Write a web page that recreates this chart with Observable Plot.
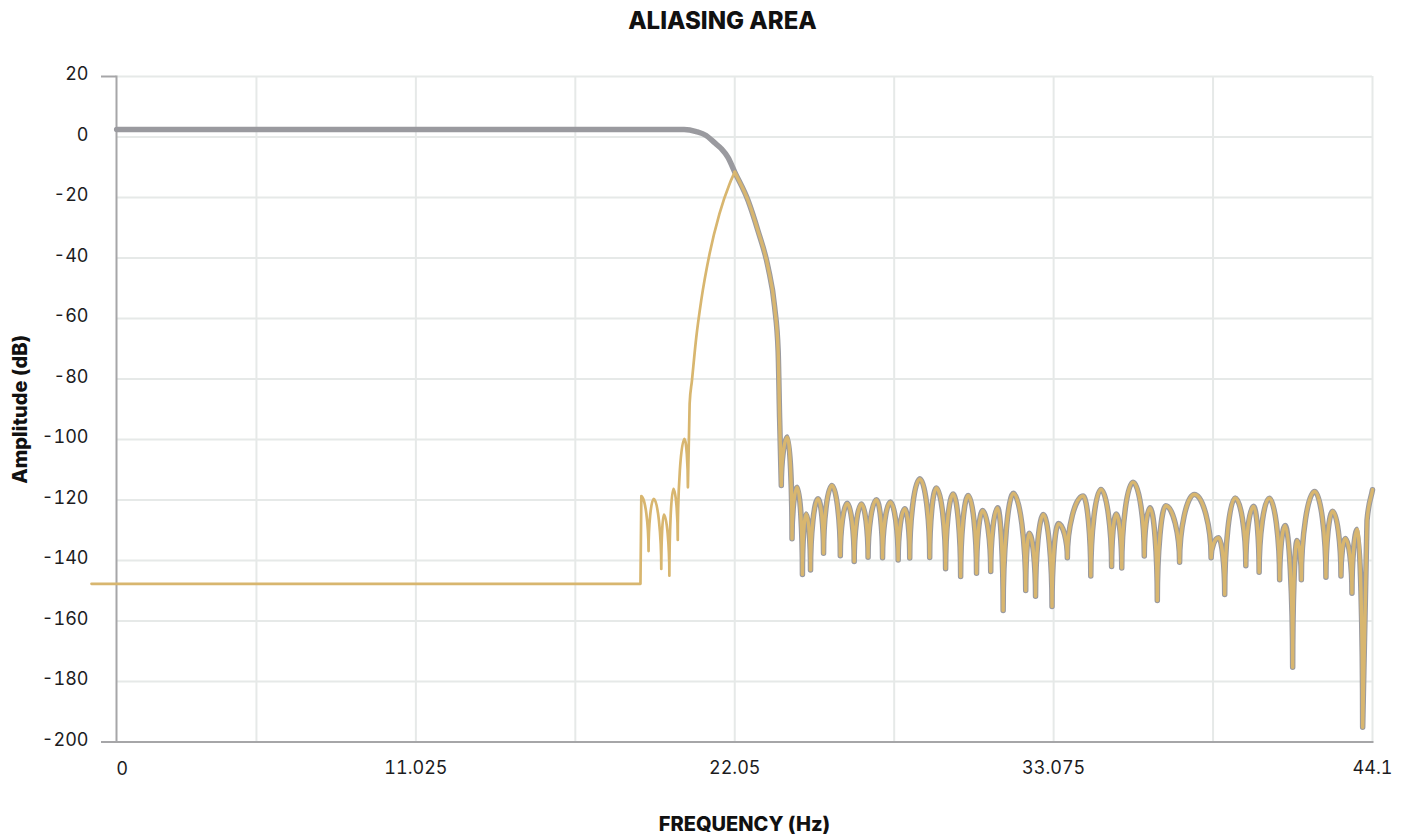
<!DOCTYPE html>
<html>
<head>
<meta charset="utf-8">
<script src="https://cdn.jsdelivr.net/npm/d3@7"></script>
<script src="https://cdn.jsdelivr.net/npm/@observablehq/plot@0.6"></script>
<style>
  body { margin: 0; background: #fff; font-family: Inter, "Liberation Sans", sans-serif; }
  #title { height: 40px; line-height: 42px; width: 1365px; padding-left: 40px; text-align: center;
           font-size: 24px; font-weight: 800; color: #111; }
</style>
</head>
<body>
<div id="title">ALIASING AREA</div>
<div id="chart"></div>
<script>
// ---- data ----
const yTicks = [20, 0, -20, -40, -60, -80, -100, -120, -140, -160, -180, -200];
const gridFreqs = [5.5125, 11.025, 16.5375, 22.05, 27.5625, 33.075, 38.5875, 44.1];
const xTickValues = [11.025, 22.05, 33.075, 44.1];
const xTickLabels = ["11.025", "22.05", "33.075", "44.1"];
const firstXLabel = "0";

// filter response: passband and transition (grey only)
const passFreq = [0.68, 20.30, 20.72, 21.06, 21.34, 21.58, 21.82];
const passAmp  = [2.5, 2.5, 1.8, 0.5, -1.8, -3.8, -6.8];

// stopband (grey and gold overlap)
const stopFreq = [22.05, 22.51, 22.85, 23.20, 23.43, 23.55, 23.60, 23.66, 23.87, 24.03,
  24.21, 24.39, 24.52, 24.67, 24.93, 25.12, 25.41, 25.70, 25.94, 26.18,
  26.43, 26.66, 26.95, 27.16, 27.43, 27.70, 27.93, 28.10, 28.45, 28.79,
  29.02, 29.34, 29.60, 29.86, 30.12, 30.41, 30.62, 30.90, 31.14, 31.33,
  31.68, 32.11, 32.23, 32.45, 32.72, 33.02, 33.24, 33.55, 34.10, 34.36,
  34.71, 35.08, 35.24, 35.43, 35.82, 36.21, 36.41, 36.66, 36.95, 37.43,
  37.94, 38.52, 38.78, 38.99, 39.35, 39.72, 39.99, 40.18, 40.53, 40.89,
  41.08, 41.34, 41.49, 41.64, 42.10, 42.49, 42.72, 43.01, 43.16, 43.39,
  43.57, 43.76, 43.91, 44.10];
const stopAmp = [-11.6, -21.0, -30.9, -43.0, -56.3, -70.6, -92.6, -115.2, -99.2, -132.8,
  -115.8, -144.6, -124.6, -143.1, -119.6, -137.6, -115.2, -138.4, -121.1, -140.3,
  -121.3, -138.9, -119.9, -139.1, -120.7, -139.8, -122.9, -139.2, -113.0, -139.0,
  -116.0, -142.7, -118.0, -145.3, -118.5, -144.2, -123.5, -143.6, -122.6, -156.5,
  -117.8, -149.9, -131.0, -151.8, -124.8, -155.2, -127.8, -139.1, -118.7, -145.1,
  -116.5, -142.0, -124.6, -142.5, -114.1, -138.5, -122.6, -153.2, -121.9, -140.6,
  -118.2, -139.1, -132.5, -151.2, -119.3, -141.7, -122.1, -143.9, -119.4, -146.4,
  -128.4, -175.3, -133.4, -146.4, -117.2, -145.5, -123.7, -145.1, -132.7, -150.8,
  -129.7, -195.1, -126.8, -116.6];

// aliased image folded below the Nyquist frequency (gold only)
const aliasFreq = [-0.19, 18.79, 18.82, 19.07, 19.25, 19.51, 19.60, 19.79, 19.93, 20.08,
  20.31, 20.43, 20.49, 20.57, 20.72, 20.89, 21.18, 21.52, 21.87, 22.05];
const aliasAmp = [-147.7, -147.7, -118.7, -136.9, -119.6, -142.8, -124.8, -145.0, -116.3, -133.2,
  -99.8, -115.8, -88.2, -80.5, -66.2, -54.1, -38.6, -25.4, -15.5, -11.6];

const toRows = (fs, as) => fs.map((f, i) => ({f, a: as[i]}));
const greyRows = toRows(passFreq, passAmp).concat(toRows(stopFreq, stopAmp));
const stopRows = toRows(stopFreq, stopAmp);
const aliasRows = toRows(aliasFreq, aliasAmp);

// curve: rounded lobe tops, sharp nulls, monotone smoothing elsewhere (passes through every point)
function lobeCurve(context) {
  let pts;
  return {
    areaStart() {}, areaEnd() {},
    lineStart() { pts = []; },
    point(x, y) { pts.push([+x, +y]); },
    lineEnd() {
      const n = pts.length;
      if (!n) return;
      const kind = i => {
        if (i <= 0 || i >= n - 1) return 0;
        const y0 = pts[i - 1][1], y1 = pts[i][1], y2 = pts[i + 1][1];
        if (y1 < y0 && y1 < y2) return 1;
        if (y1 > y0 && y1 > y2) return -1;
        return 0;
      };
      const slope = (a, b) => {
        const h = pts[b][0] - pts[a][0];
        return h ? (pts[b][1] - pts[a][1]) / h : 0;
      };
      const tangent = i => {
        if (n < 2) return 0;
        if (i === 0) return slope(0, 1);
        if (i === n - 1) return slope(n - 2, n - 1);
        const s0 = slope(i - 1, i), s1 = slope(i, i + 1);
        if (s0 * s1 <= 0) return 0;
        const h0 = pts[i][0] - pts[i - 1][0], h1 = pts[i + 1][0] - pts[i][0];
        const p = (s0 * h1 + s1 * h0) / (h0 + h1);
        return (Math.sign(s0) + Math.sign(s1)) * Math.min(Math.abs(s0), Math.abs(s1), 0.5 * Math.abs(p));
      };
      context.moveTo(pts[0][0], pts[0][1]);
      for (let i = 1; i < n; i++) {
        const [x0, y0] = pts[i - 1], [x1, y1] = pts[i];
        const k0 = kind(i - 1), k1 = kind(i);
        const h = x1 - x0;
        if (k0 === -1 && k1 === 1) {
          context.bezierCurveTo(x0, y0 + 0.5 * (y1 - y0), x1 - 0.5 * h, y1, x1, y1);
        } else if (k0 === 1 && k1 === -1) {
          context.bezierCurveTo(x0 + 0.5 * h, y0, x1, y1 - 0.5 * (y1 - y0), x1, y1);
        } else if (k0 === 0 && k1 === 0 && h > 0) {
          const m0 = tangent(i - 1), m1 = tangent(i);
          context.bezierCurveTo(x0 + h / 3, y0 + m0 * h / 3, x1 - h / 3, y1 - m1 * h / 3, x1, y1);
        } else {
          context.lineTo(x1, y1);
        }
      }
    }
  };
}

const axisColor = "#a6a6a8";
const gridColor = "#e6e9e8";
const textColor = "#1c1c1e";

const chart = Plot.plot({
  width: 1405,
  height: 796,
  marginTop: 36,
  marginBottom: 94.5,
  marginLeft: 116,
  marginRight: 33,
  style: {fontFamily: "Inter, 'Liberation Sans', sans-serif", fontSize: "18px", color: textColor, background: "#fff"},
  x: {domain: [0, 44.1], range: [96.5, 1372]},
  y: {domain: [-200, 20], range: [701.5, 36]},
  marks: [
    Plot.gridX(gridFreqs, {stroke: gridColor, strokeOpacity: 1, strokeWidth: 2}),
    Plot.gridY(yTicks.filter(d => d > -200), {stroke: gridColor, strokeOpacity: 1, strokeWidth: 2}),
    Plot.frame({anchor: "left", stroke: axisColor, strokeWidth: 2}),
    Plot.frame({anchor: "bottom", stroke: axisColor, strokeWidth: 2}),
    Plot.axisY({ticks: [20, -200], tickSize: 15, tickFormat: () => "", stroke: axisColor, strokeWidth: 2, label: null}),
    Plot.axisY({ticks: yTicks, tickSize: 0, tickPadding: 28, dy: -2, tickFormat: d => String(d), fill: textColor, fontSize: 18, label: null}),
    Plot.axisX({ticks: xTickValues, tickSize: 0, tickPadding: 19, tickFormat: d => xTickLabels[xTickValues.indexOf(d)], fill: textColor, fontSize: 18, label: null}),
    Plot.text([firstXLabel], {text: d => d, frameAnchor: "bottom-left", textAnchor: "start", lineAnchor: "middle", dy: 27.5, fontSize: 18, fill: textColor}),
    Plot.text(["Amplitude (dB)"], {text: d => d, frameAnchor: "left", textAnchor: "middle", lineAnchor: "middle", rotate: -90, dx: -96, fontWeight: 800, fontSize: 20, fill: "#111"}),
    Plot.text(["FREQUENCY (Hz)"], {text: d => d, frameAnchor: "bottom", textAnchor: "middle", lineAnchor: "middle", dy: 82.5, fontWeight: 800, fontSize: 20, fill: "#111"}),
    Plot.line(greyRows, {x: "f", y: "a", stroke: "#9a9a9f", strokeWidth: 5.5, curve: lobeCurve, strokeLinejoin: "round", strokeLinecap: "round"}),
    Plot.line(stopRows, {x: "f", y: "a", stroke: "#d8b66f", strokeWidth: 3.4, curve: lobeCurve, strokeLinejoin: "round", strokeLinecap: "round"}),
    Plot.line(aliasRows, {x: "f", y: "a", stroke: "#d8b66f", strokeWidth: 2.7, curve: lobeCurve, strokeLinejoin: "round", strokeLinecap: "round"})
  ]
});
document.getElementById("chart").appendChild(chart);
</script>
</body>
</html>
